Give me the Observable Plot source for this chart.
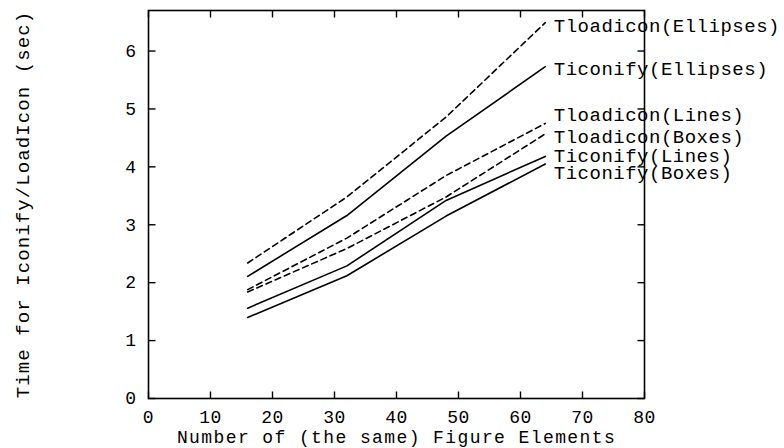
<!DOCTYPE html>
<html><head><meta charset="utf-8">
<script src="https://cdn.jsdelivr.net/npm/d3@7"></script>
<script src="https://cdn.jsdelivr.net/npm/@observablehq/plot@0.6"></script>
<style>
body{margin:0;background:#fff}
svg{font-family:"Liberation Mono","DejaVu Sans Mono",monospace;}
svg text{letter-spacing:0.5px}
</style>
</head><body><div id="chart"></div>
<script>
const xValues = [16, 32, 48, 64];
const seriesNames = ["Tloadicon(Ellipses)", "Ticonify(Ellipses)", "Tloadicon(Lines)", "Tloadicon(Boxes)", "Ticonify(Lines)", "Ticonify(Boxes)"];
const tloadiconEllipses = [2.34, 3.48, 4.86, 6.49];
const ticonifyEllipses = [2.11, 3.16, 4.53, 5.73];
const tloadiconLines = [1.88, 2.77, 3.85, 4.75];
const tloadiconBoxes = [1.84, 2.59, 3.48, 4.57];
const ticonifyLines = [1.56, 2.29, 3.42, 4.18];
const ticonifyBoxes = [1.40, 2.12, 3.15, 4.05];
const labelY = [6.44, 5.70, 4.89, 4.51, 4.19, 3.90];
const dashed = [true, false, true, true, false, false];
const xTicks = [0, 10, 20, 30, 40, 50, 60, 70, 80];
const yTicks = [0, 1, 2, 3, 4, 5, 6];
const xDomain = [0, 80];
const yDomain = [0, 6.7];
const xTitle = "Number of (the same) Figure Elements";
const yTitle = "Time for Iconify/LoadIcon (sec)";

const allValues = [tloadiconEllipses, ticonifyEllipses, tloadiconLines, tloadiconBoxes, ticonifyLines, ticonifyBoxes];
const rows = [];
seriesNames.forEach((name, i) => {
  xValues.forEach((x, j) => rows.push({series: name, x, y: allValues[i][j], dashed: dashed[i]}));
});
const labels = seriesNames.map((name, i) => ({name, x: xValues[xValues.length - 1], y: labelY[i]}));

const W = 784, H = 448, ML = 148, MR = 140, MT = 10, MB = 50, TICK = 7;
const frameW = W - ML - MR, frameH = H - MT - MB;
const tx = TICK / frameW * (xDomain[1] - xDomain[0]);
const ty = TICK / frameH * (yDomain[1] - yDomain[0]);
const tickStyle = {stroke: "#000", strokeWidth: 1.4};

const chart = Plot.plot({
  width: W,
  height: H,
  marginLeft: ML,
  marginRight: MR,
  marginTop: MT,
  marginBottom: MB,
  style: {fontSize: "19px", color: "#000", background: "#fff"},
  x: {domain: xDomain},
  y: {domain: yDomain},
  marks: [
    Plot.axisX({anchor: "bottom", ticks: xTicks, tickSize: 0, tickPadding: 12, label: null, fontSize: 18}),
    Plot.axisY({anchor: "left", ticks: yTicks, tickSize: 0, tickPadding: 12, tickFormat: "d", label: null, fontSize: 18}),
    Plot.link(xTicks, {x1: d => d, x2: d => d, y1: () => yDomain[0], y2: () => yDomain[0] + ty, ...tickStyle}),
    Plot.link(xTicks, {x1: d => d, x2: d => d, y1: () => yDomain[1], y2: () => yDomain[1] - ty, ...tickStyle}),
    Plot.link(yTicks, {y1: d => d, y2: d => d, x1: () => xDomain[0], x2: () => xDomain[0] + tx, ...tickStyle}),
    Plot.link(yTicks, {y1: d => d, y2: d => d, x1: () => xDomain[1], x2: () => xDomain[1] - tx, ...tickStyle}),
    Plot.frame({stroke: "#000", strokeWidth: 1.6}),
    Plot.line(rows.filter(d => !d.dashed), {x: "x", y: "y", z: "series", stroke: "#000", strokeWidth: 1.6}),
    Plot.line(rows.filter(d => d.dashed), {x: "x", y: "y", z: "series", stroke: "#000", strokeWidth: 1.6, strokeDasharray: "6,4"}),
    Plot.text(labels, {x: "x", y: "y", text: "name", dx: 8.5, textAnchor: "start", fill: "#000"}),
    Plot.text([xTitle], {text: d => d, frameAnchor: "bottom", dy: 44, textAnchor: "middle", fill: "#000", fontSize: 18}),
    Plot.text([yTitle], {text: d => d, frameAnchor: "left", dx: -126, rotate: -90, textAnchor: "middle", fill: "#000"})
  ]
});
chart.querySelectorAll("text").forEach(t => {
  if (t.textContent === xTitle) t.style.letterSpacing = "1.4px";
  if (t.textContent === yTitle) t.style.letterSpacing = "1.1px";
});
document.getElementById("chart").append(chart);
</script>
</body></html>
